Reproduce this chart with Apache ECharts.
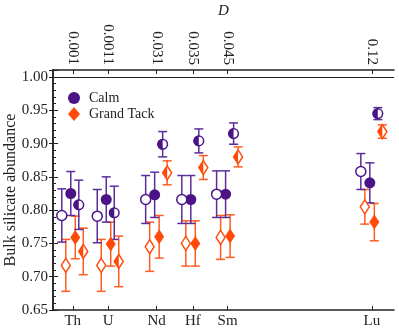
<!DOCTYPE html>
<html>
<head>
<meta charset="utf-8">
<script src="https://cdn.jsdelivr.net/npm/echarts@6/dist/echarts.min.js"></script>
<style>
html, body { margin: 0; padding: 0; background: #fff; }
#chart { width: 399px; height: 330px; }
</style>
</head>
<body>
<div id="chart"></div>
<script>
// elements along the bottom, partition coefficients D along the top
var elements = ['Th', 'U', 'Nd', 'Hf', 'Sm', 'Lu'];
var dLabels = ['0.001', '0.0011', '0.031', '0.035', '0.045', '0.12'];
var elementPos = [0.58, 1.62, 3.04, 4.10, 5.12, 9.35];

// Calm scenario
var calmOpen = [0.792, 0.791, 0.816, 0.816, 0.824, 0.858];
var calmOpenErr = [0.040, 0.040, 0.036, 0.036, 0.035, 0.027];
var calmFilled = [0.825, 0.816, 0.823, 0.816, 0.824, 0.841];
var calmFilledErr = [0.033, 0.034, 0.034, 0.036, 0.035, 0.030];
var calmHalf = [0.808, 0.796, 0.899, 0.904, 0.915, 0.945];
var calmHalfErr = [0.037, 0.040, 0.019, 0.018, 0.016, 0.009];

// Grand Tack scenario
var gtOpen = [0.717, 0.717, 0.745, 0.750, 0.759, 0.805];
var gtOpenErr = [0.039, 0.039, 0.037, 0.034, 0.033, 0.026];
var gtFilled = [0.759, 0.749, 0.760, 0.750, 0.761, 0.782];
var gtFilledErr = [0.032, 0.033, 0.032, 0.034, 0.032, 0.028];
var gtHalf = [0.738, 0.723, 0.856, 0.864, 0.880, 0.918];
var gtHalfErr = [0.035, 0.038, 0.018, 0.018, 0.015, 0.010];

var PURPLE = '#4a1486', PURPLE_BAR = '#5b2d9c';
var ORANGE = '#ff4a0a', ORANGE_BAR = '#ff5c1f';
var SERIF = '"Liberation Serif", "DejaVu Serif", serif';

function pairs(vals, errs) {
	return elementPos.map(function(p, i) { return [p, vals[i], errs ? errs[i] : 0]; });
}

function nameAt(list) {
	return function(v) {
		var best = 0;
		for (var i = 1; i < elementPos.length; i++) {
			if (Math.abs(elementPos[i] - v) < Math.abs(elementPos[best] - v)) best = i;
		}
		return list[best];
	};
}

// vertical error bar with caps, shifted dx pixels from the element position
function errSeries(vals, errs, color, dx) {
	return {
		type: 'custom', silent: true, z: 2,
		encode: { x: 0, y: 1 },
		data: pairs(vals, errs),
		renderItem: function(params, api) {
			var x = api.value(0), v = api.value(1), e = api.value(2);
			var top = api.coord([x, v + e]), bot = api.coord([x, v - e]);
			var cx = top[0] + dx, cap = 4.5;
			var st = { stroke: color, lineWidth: 1.5 };
			return { type: 'group', children: [
				{ type: 'line', shape: { x1: cx, y1: top[1], x2: cx, y2: bot[1] }, style: st },
				{ type: 'line', shape: { x1: cx - cap, y1: top[1], x2: cx + cap, y2: top[1] }, style: st },
				{ type: 'line', shape: { x1: cx - cap, y1: bot[1], x2: cx + cap, y2: bot[1] }, style: st }
			]};
		}
	};
}

// half-filled marker (left half filled)
function halfSeries(vals, color, dx, diamond) {
	return {
		type: 'custom', silent: true, z: 4,
		encode: { x: 0, y: 1 },
		data: pairs(vals),
		renderItem: function(params, api) {
			var c = api.coord([api.value(0), api.value(1)]);
			var cx = c[0] + dx, cy = c[1];
			if (diamond) {
				var w = 4.5, h = 7;
				return { type: 'group', children: [
					{ type: 'polygon', shape: { points: [[cx, cy - h], [cx + w, cy], [cx, cy + h], [cx - w, cy]] },
						style: { fill: '#fff', stroke: color, lineWidth: 1.5 } },
					{ type: 'polygon', shape: { points: [[cx, cy - h], [cx - w, cy], [cx, cy + h]] },
						style: { fill: color } }
				]};
			}
			return { type: 'group', children: [
				{ type: 'circle', shape: { cx: cx, cy: cy, r: 4.8 }, style: { fill: '#fff', stroke: color, lineWidth: 1.5 } },
				{ type: 'sector', shape: { cx: cx, cy: cy, r0: 0, r: 5.3, startAngle: Math.PI / 2, endAngle: Math.PI * 3 / 2, clockwise: true },
					style: { fill: color } }
			]};
		}
	};
}

var chart = echarts.init(document.getElementById('chart'), null, { renderer: 'canvas' });

chart.setOption({
	animation: false,
	textStyle: { fontFamily: SERIF },
	grid: { left: 53, right: 5, top: 70, bottom: 20, containLabel: false, outerBoundsMode: 'none' },
	legend: {
		data: ['Calm', 'Grand Tack'],
		orient: 'vertical', left: 63, top: 86,
		itemWidth: 12, itemHeight: 14, itemGap: 2,
		textStyle: { fontFamily: SERIF, fontSize: 14, color: '#222', padding: [0, 0, 0, 4] }
	},
	xAxis: [{
		type: 'value', min: 0, max: 10, position: 'bottom',
		axisLine: { lineStyle: { color: '#222', width: 1.5 } },
		splitLine: { show: false },
		axisTick: { inside: true, length: 4, customValues: elementPos, lineStyle: { color: '#222' } },
		axisLabel: { customValues: elementPos, formatter: nameAt(elements), color: '#222', fontSize: 15, fontFamily: SERIF, margin: 4 }
	}, {
		type: 'value', min: 0, max: 10, position: 'top',
		name: 'D', nameLocation: 'middle', nameGap: 51, nameMoveOverlap: false,
		nameTextStyle: { fontStyle: 'italic', fontSize: 15, color: '#222', fontFamily: SERIF },
		axisLine: { lineStyle: { color: '#222', width: 1.5 } },
		splitLine: { show: false },
		axisTick: { inside: true, length: 4, customValues: elementPos, lineStyle: { color: '#222' } },
		axisLabel: { customValues: elementPos, formatter: nameAt(dLabels), rotate: 90, color: '#222', fontSize: 15, fontFamily: SERIF, margin: 5 }
	}],
	yAxis: [{
		type: 'value', min: 0.65, max: 1.0105, interval: 0.05,
		name: 'Bulk silicate abundance', nameLocation: 'middle', nameGap: 34, nameMoveOverlap: false,
		nameTextStyle: { fontSize: 16, color: '#222', fontFamily: SERIF },
		axisLine: { show: true, lineStyle: { color: '#222', width: 1.5 } },
		splitLine: { show: false },
		axisTick: { inside: true, length: 5, lineStyle: { color: '#222' } },
		minorTick: { show: true, splitNumber: 5, length: 3, lineStyle: { color: '#222' } },
		axisLabel: { showMaxLabel: false, formatter: function(v) { return v.toFixed(2); }, color: '#222', fontSize: 15, fontFamily: SERIF, margin: 5 }
	}, {
		type: 'value', min: 0.65, max: 1.0105, interval: 0.05, position: 'right',
		axisLine: { show: true, lineStyle: { color: '#222', width: 1.5 } },
		splitLine: { show: false },
		axisTick: { inside: true, length: 4, lineStyle: { color: '#222' } },
		axisLabel: { show: false }
	}],
	series: [
		errSeries(gtOpen, gtOpenErr, ORANGE_BAR, -7),
		errSeries(gtFilled, gtFilledErr, ORANGE_BAR, 2.5),
		errSeries(gtHalf, gtHalfErr, ORANGE_BAR, 10.5),
		errSeries(calmOpen, calmOpenErr, PURPLE_BAR, -11),
		errSeries(calmFilled, calmFilledErr, PURPLE_BAR, -2),
		errSeries(calmHalf, calmHalfErr, PURPLE_BAR, 6),
		{
			name: 'Calm', type: 'scatter', z: 4, symbol: 'circle', symbolSize: 11, symbolOffset: [-2, 0],
			itemStyle: { color: PURPLE, opacity: 1 },
			data: pairs(calmFilled),
			markLine: {
				silent: true, symbol: 'none', label: { show: false },
				lineStyle: { color: '#222', type: 'solid', width: 1 },
				data: [{ yAxis: 1.0 }]
			}
		},
		{
			name: 'Calm open', type: 'scatter', z: 4, symbol: 'circle', symbolSize: 10, symbolOffset: [-11, 0],
			itemStyle: { color: '#fff', borderColor: PURPLE, borderWidth: 1.5, opacity: 1 },
			data: pairs(calmOpen)
		},
		{
			name: 'Grand Tack', type: 'scatter', z: 4, symbol: 'diamond', symbolSize: [10, 15], symbolOffset: [2.5, 0],
			itemStyle: { color: ORANGE, opacity: 1 },
			data: pairs(gtFilled)
		},
		{
			name: 'Grand Tack open', type: 'scatter', z: 4, symbol: 'diamond', symbolSize: [9, 14], symbolOffset: [-7, 0],
			itemStyle: { color: '#fff', borderColor: ORANGE, borderWidth: 1.5, opacity: 1 },
			data: pairs(gtOpen)
		},
		halfSeries(calmHalf, PURPLE, 6, false),
		halfSeries(gtHalf, ORANGE, 10.5, true)
	]
});
</script>
</body>
</html>
